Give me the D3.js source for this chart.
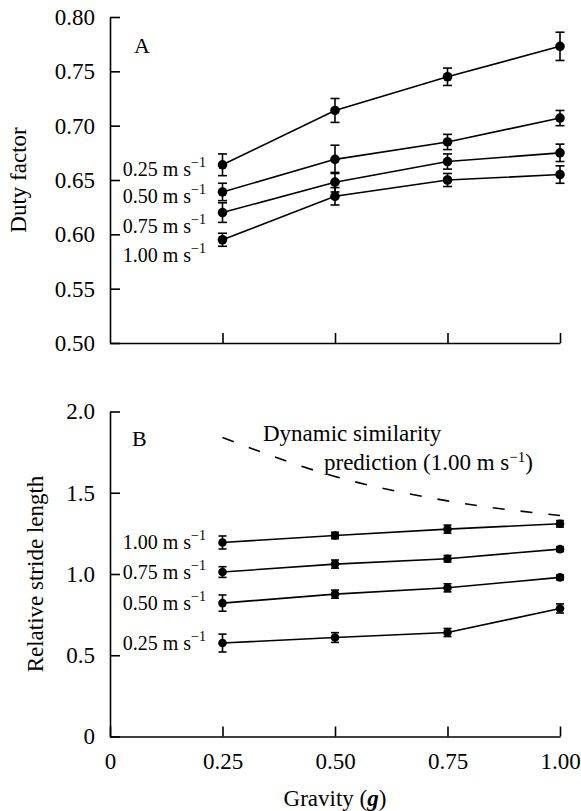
<!DOCTYPE html>
<html>
<head>
<meta charset="utf-8">
<script src="https://cdn.jsdelivr.net/npm/d3@7"></script>
<style>
  body { margin: 0; background: #fff; }
  svg { display: block; font-family: "Liberation Serif", "Times New Roman", serif; }
</style>
</head>
<body>
<svg id="chart" width="581" height="811"></svg>
<script>
// gravity levels (x) and speed series
const gravity = [0.25, 0.5, 0.75, 1.0];
const speeds = ['0.25', '0.50', '0.75', '1.00'];

// panel A: duty factor, one row per speed
const dutyFactor = [
  [0.664, 0.714, 0.745, 0.773],
  [0.639, 0.669, 0.685, 0.707],
  [0.620, 0.648, 0.667, 0.675],
  [0.595, 0.635, 0.650, 0.655],
];
const dutyFactorErr = [
  [0.010, 0.011, 0.008, 0.013],
  [0.008, 0.013, 0.007, 0.007],
  [0.009, 0.009, 0.007, 0.008],
  [0.006, 0.008, 0.006, 0.008],
];

// panel B: relative stride length, one row per speed
const strideLength = [
  [0.575, 0.609, 0.640, 0.788],
  [0.821, 0.876, 0.915, 0.979],
  [1.012, 1.061, 1.094, 1.153],
  [1.194, 1.237, 1.276, 1.309],
];
const strideLengthErr = [
  [0.055, 0.030, 0.025, 0.028],
  [0.050, 0.025, 0.025, 0.015],
  [0.033, 0.025, 0.020, 0.015],
  [0.040, 0.020, 0.025, 0.020],
];

// dynamic similarity prediction at 1.00 m/s
const prediction = [1.84, 1.60, 1.45, 1.36];

const ticksA = [0.5, 0.55, 0.6, 0.65, 0.7, 0.75, 0.8];
const ticksB = [0, 0.5, 1.0, 1.5, 2.0];
const ticksX = [0, 0.25, 0.5, 0.75, 1.0];

const svg = d3.select('#chart');
const x = d3.scaleLinear().domain([0, 1]).range([110, 560]);
const yA = d3.scaleLinear().domain([0.5, 0.8]).range([343, 17]);
const yB = d3.scaleLinear().domain([0, 2]).range([736.5, 411.5]);

const styleAxis = (g) => {
  g.select('.domain').attr('stroke-width', 1.6);
  g.selectAll('.tick line').attr('stroke-width', 1.6);
  g.selectAll('.tick text')
    .attr('font-family', '"Liberation Serif", "Times New Roman", serif')
    .attr('font-size', 23)
    .attr('fill', '#000');
};

const addSpeedLabel = (g, text, xPos, yPos) => {
  const label = g.append('text')
    .attr('x', xPos)
    .attr('y', yPos)
    .attr('text-anchor', 'end')
    .attr('dominant-baseline', 'middle')
    .attr('font-size', 20);
  label.append('tspan').text(`${text} m s`);
  label.append('tspan').attr('dy', -7).attr('font-size', 14).text('\u22121');
};

const drawPanel = ({ y, values, errors, yTicks, yFormat, xLabels, r, capW }) => {
  const g = svg.append('g');

  g.append('g')
    .attr('transform', `translate(${x(0)},0)`)
    .call(d3.axisLeft(y).tickValues(yTicks).tickSize(-10).tickSizeOuter(0)
      .tickPadding(15).tickFormat(yFormat))
    .call(styleAxis);

  g.append('g')
    .attr('transform', `translate(0,${y.range()[0]})`)
    .call(d3.axisBottom(x).tickValues(xLabels ? ticksX : gravity).tickSize(-10)
      .tickSizeOuter(0).tickPadding(16)
      .tickFormat(xLabels ? ((d) => (d === 0 ? '0' : d3.format('.2f')(d))) : ''))
    .call(styleAxis);

  const line = d3.line().x((d, i) => x(gravity[i])).y((d) => y(d));

  values.forEach((row, s) => {
    const series = g.append('g');
    series.append('path')
      .datum(row)
      .attr('d', line)
      .attr('fill', 'none')
      .attr('stroke', '#000')
      .attr('stroke-width', 1.6);

    const bars = series.selectAll('g.err')
      .data(row.map((v, i) => ({ v, e: errors[s][i], gx: gravity[i] })))
      .join('g')
      .attr('class', 'err');
    bars.append('line')
      .attr('x1', (d) => x(d.gx)).attr('x2', (d) => x(d.gx))
      .attr('y1', (d) => y(d.v - d.e)).attr('y2', (d) => y(d.v + d.e));
    bars.append('line')
      .attr('x1', (d) => x(d.gx) - capW).attr('x2', (d) => x(d.gx) + capW)
      .attr('y1', (d) => y(d.v + d.e)).attr('y2', (d) => y(d.v + d.e));
    bars.append('line')
      .attr('x1', (d) => x(d.gx) - capW).attr('x2', (d) => x(d.gx) + capW)
      .attr('y1', (d) => y(d.v - d.e)).attr('y2', (d) => y(d.v - d.e));
    bars.selectAll('line').attr('stroke', '#000').attr('stroke-width', 1.6);
    bars.append('circle')
      .attr('cx', (d) => x(d.gx))
      .attr('cy', (d) => y(d.v))
      .attr('r', r)
      .attr('fill', '#000');
  });

  return g;
};

// panel A
const gA = drawPanel({
  y: yA,
  values: dutyFactor,
  errors: dutyFactorErr,
  yTicks: ticksA,
  yFormat: d3.format('.2f'),
  xLabels: false,
  r: 4.8,
  capW: 4.5,
});
const offsetsA = [6, 6, 15, 17];
speeds.forEach((sp, i) => addSpeedLabel(gA, sp, 206, yA(dutyFactor[i][0]) + offsetsA[i]));
gA.append('text').attr('x', 134).attr('y', 53).attr('font-size', 22).text('A');
gA.append('text')
  .attr('transform', `translate(26,${(yA.range()[0] + yA.range()[1]) / 2}) rotate(-90)`)
  .attr('text-anchor', 'middle')
  .attr('font-size', 23)
  .text('Duty factor');

// panel B
const gB = drawPanel({
  y: yB,
  values: strideLength,
  errors: strideLengthErr,
  yTicks: ticksB,
  yFormat: (d) => (d === 0 ? '0' : d3.format('.1f')(d)),
  xLabels: true,
  r: 4.3,
  capW: 4,
});
speeds.forEach((sp, i) => addSpeedLabel(gB, sp, 206, yB(strideLength[i][0]) + 2));
gB.append('text').attr('x', 132).attr('y', 446).attr('font-size', 22).text('B');

gB.append('path')
  .datum(prediction)
  .attr('d', d3.line().x((d, i) => x(gravity[i])).y((d) => yB(d)).curve(d3.curveMonotoneX))
  .attr('fill', 'none')
  .attr('stroke', '#000')
  .attr('stroke-width', 1.6)
  .attr('stroke-dasharray', '12,16');

gB.append('text').attr('x', 263).attr('y', 441).attr('font-size', 23).text('Dynamic similarity');
const pred = gB.append('text').attr('x', 324).attr('y', 470).attr('font-size', 23);
pred.append('tspan').text('prediction (1.00 m s');
pred.append('tspan').attr('dy', -8).attr('font-size', 15).text('\u22121');
pred.append('tspan').attr('dy', 8).text(')');

gB.append('text')
  .attr('transform', `translate(43,${(yB.range()[0] + yB.range()[1]) / 2}) rotate(-90)`)
  .attr('text-anchor', 'middle')
  .attr('font-size', 23)
  .text('Relative stride length');

const xTitle = svg.append('text')
  .attr('x', x(0.5))
  .attr('y', 806)
  .attr('text-anchor', 'middle')
  .attr('font-size', 23);
xTitle.append('tspan').text('Gravity (');
xTitle.append('tspan').attr('font-weight', 'bold').attr('font-style', 'italic').text('g');
xTitle.append('tspan').text(')');
</script>
</body>
</html>
